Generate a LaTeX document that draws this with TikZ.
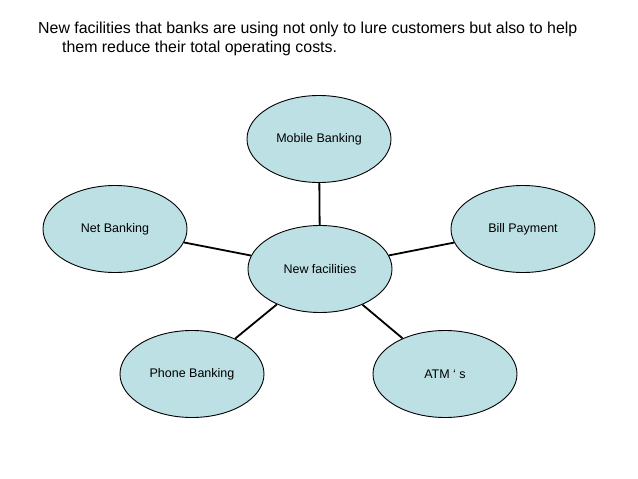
\documentclass[tikz,border=0pt]{standalone}
\usepackage{fontspec}
\setmainfont{Liberation Sans}
\usetikzlibrary{shapes.geometric}
\definecolor{bubble}{RGB}{188,224,228}
\tikzset{
  bubble/.style={ellipse, draw=black, line width=0.9pt, fill=bubble,
    minimum width=144pt, minimum height=87pt, inner sep=0pt,
    font=\fontsize{12.5pt}{14pt}\selectfont},
  link/.style={draw=black, line width=1.8pt}
}
\begin{document}
\begin{tikzpicture}[x=1pt,y=-1pt]
\useasboundingbox (0,0) rectangle (638,479);
\node[anchor=north west, align=left, inner sep=0pt,
  font=\fontsize{15.9pt}{19pt}\selectfont] (title) at (38,22)
  {New facilities that banks are using not only to lure customers but also to help\\
   \hspace*{24pt}them reduce their total operating costs.};
\node[bubble] (center) at (320,269) {New facilities};
\node[bubble] (mobile) at (319,139) {Mobile Banking};
\node[bubble] (net) at (115,229) {Net Banking};
\node[bubble] (bill) at (523,229) {Bill Payment};
\node[bubble] (phone) at (192,374) {Phone Banking};
\node[bubble] (atm) at (445,374) {ATM ‘ s};
\draw[link] (mobile) -- (center);
\draw[link] (net) -- (center);
\draw[link] (bill) -- (center);
\draw[link] (phone) -- (center);
\draw[link] (atm) -- (center);
\end{tikzpicture}
\end{document}
